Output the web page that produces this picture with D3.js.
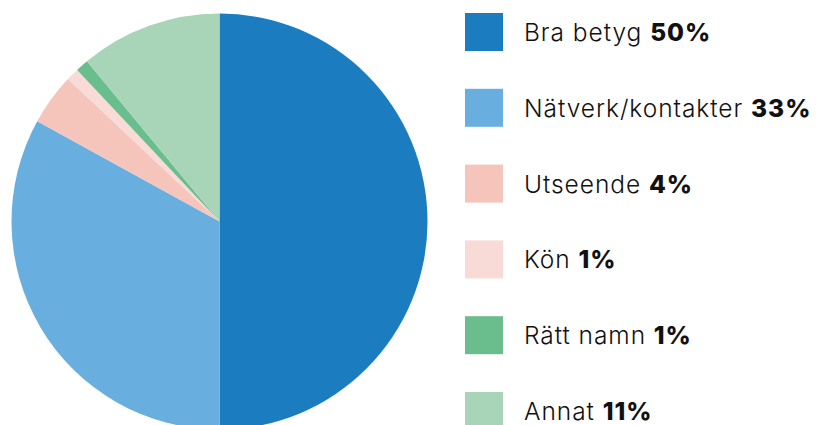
<!DOCTYPE html>
<html>
<head>
<meta charset="utf-8">
<script src="https://cdn.jsdelivr.net/npm/d3@7"></script>
<style>
  body { margin: 0; background: #fff; }
  text { font-family: Inter, "Open Sans", sans-serif; }
</style>
</head>
<body>
<div id="chart"></div>
<script>
var categories = ['Bra betyg', 'Nätverk/kontakter', 'Utseende', 'Kön', 'Rätt namn', 'Annat'];
var values     = [50, 33, 4, 1, 1, 11];
var colors     = ['#1b7dc0', '#68afdf', '#f5c5bc', '#f8dbd6', '#6abd8c', '#a8d4b8'];

var chart_width  = 828;
var chart_height = 425;
var cx = 219.5, cy = 221.5, radius = 208;

var svg = d3.select('#chart')
	.append('svg')
	.attr('width', chart_width)
	.attr('height', chart_height);

var data = categories.map(function(c, i){
	return { name: c, value: values[i], color: colors[i] };
});

// pie, clockwise from 12 o'clock, keep order
var pie = d3.pie()
	.sort(null)
	.value(function(d){ return d.value; });

var arc = d3.arc()
	.innerRadius(0)
	.outerRadius(radius);

svg.append('g')
	.attr('transform', 'translate(' + cx + ',' + cy + ')')
	.selectAll('path')
	.data(pie(data))
	.enter()
	.append('path')
	.attr('d', arc)
	.attr('fill', function(d){ return d.data.color; });

// legend
var y_scale = d3.scaleBand()
	.domain(categories)
	.range([13, 13 + 75.8 * categories.length])
	.paddingInner(0);

var box = 38;

var legend = svg.selectAll('.legend')
	.data(data)
	.enter()
	.append('g')
	.attr('class', 'legend')
	.attr('transform', function(d){
		return 'translate(465,' + y_scale(d.name) + ')';
	});

legend.append('rect')
	.attr('width', box)
	.attr('height', box)
	.attr('fill', function(d){ return d.color; });

var label = legend.append('text')
	.attr('x', 59)
	.attr('y', box / 2 + 9)
	.attr('font-size', 24.5)
	.attr('letter-spacing', 0.95)
	.attr('fill', '#111');

label.append('tspan')
	.attr('font-weight', 300)
	.text(function(d){ return d.name + ' '; });

label.append('tspan')
	.attr('font-weight', 800)
	.text(function(d){ return d.value + '%'; });
</script>
</body>
</html>
